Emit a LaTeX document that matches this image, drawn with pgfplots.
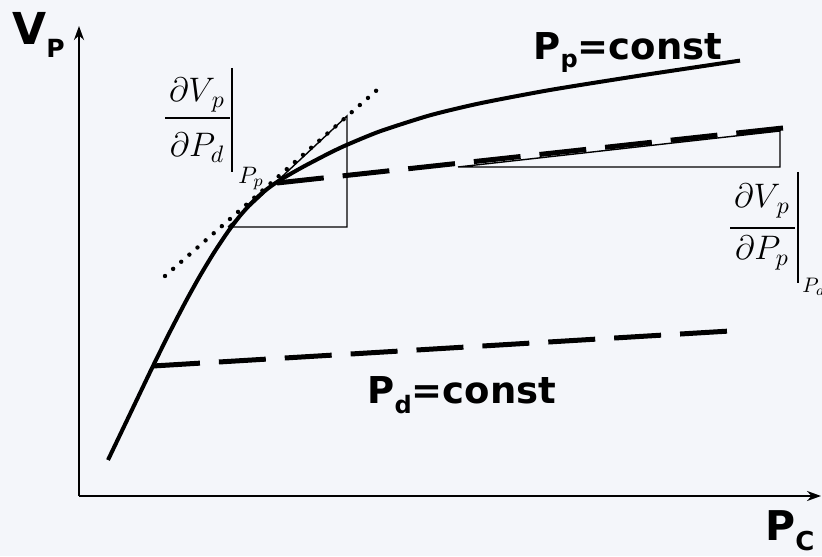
\RequirePackage{fix-cm}
\documentclass[border=0pt]{standalone}
\usepackage{pgfplots}
\pgfplotsset{compat=1.18}
\usepackage{fontspec}
\setmainfont{DejaVu Sans}
\usetikzlibrary{arrows.meta}
\definecolor{paper}{RGB}{244,246,250}

\begin{document}
\begin{tikzpicture}
\begin{axis}[
  width=411pt, height=278pt, scale only axis,
  xmin=0, xmax=822, ymin=0, ymax=556,
  hide axis, clip=false,
]
% paper
\fill[paper] (axis cs:0,0) rectangle (axis cs:822,556);

% coordinate axes
\draw[line width=1.2pt, -{Stealth[length=7pt,width=5pt]}] (axis cs:79,60) -- (axis cs:79,530);
\draw[line width=1.2pt, -{Stealth[length=7pt,width=5pt]}] (axis cs:79,60) -- (axis cs:821,60);

% slope triangles
\addplot[black, line width=0.7pt] coordinates {(228,329) (347,329) (347,440) (228,329)};
\addplot[black, line width=0.7pt] coordinates {(458,389) (780,389) (780,425) (458,389)};

% tangent at the intersection point
\addplot[black, line width=2.2pt, line cap=round, dash pattern=on 0pt off 5.4pt]
  coordinates {(165,280) (377,466)};

% P_p = const curve
\addplot[black, line width=2pt, smooth, tension=0.4] coordinates {
  (108,96) (130,142) (153,190) (170,224.3) (186,255) (200,280.2) (214,303.4)
  (228,324.4) (240,340.2) (252,353.6) (264,364.6) (277,374) (290,381.8) (305,390.2)
  (330,403.2) (347,411.2) (380,424.7) (430,440.7) (480,452.7) (550,466)
  (640,480.4) (740,495.4)
};

% P_d = const lines
\addplot[black, line width=2.5pt, dash pattern=on 23.5pt off 9.5pt]
  coordinates {(277,373) (783,428)};
\addplot[black, line width=2.5pt, dash pattern=on 23.5pt off 9.5pt]
  coordinates {(153,190) (730,225)};

% axis titles
\node[anchor=base west, inner sep=0] at (axis cs:12,511)
  {\fontsize{22}{26}\selectfont\bfseries V\raisebox{-6.5pt}{\fontsize{12.5}{15}\selectfont P}};
\node[anchor=base west, inner sep=0] at (axis cs:765,16)
  {\fontsize{20.5}{24}\selectfont\bfseries P\raisebox{-5pt}{\fontsize{13}{16}\selectfont C}};

% curve labels
\node[anchor=base west, inner sep=0] at (axis cs:533,496)
  {\fontsize{18.5}{22}\selectfont\bfseries P\raisebox{-4pt}{\fontsize{12}{14}\selectfont p}=const};
\node[anchor=base west, inner sep=0] at (axis cs:367,153)
  {\fontsize{18.5}{22}\selectfont\bfseries P\raisebox{-5pt}{\fontsize{12}{14}\selectfont d}=const};

% derivative along P_p = const
\node[anchor=base, inner sep=0] at (axis cs:197,454) {\fontsize{17}{20}\selectfont$\partial V_{\,p}$};
\draw[line width=0.6pt] (axis cs:165,438) -- (axis cs:230,438);
\node[anchor=base, inner sep=0] at (axis cs:197,399) {\fontsize{17}{20}\selectfont$\partial P_{d}$};
\draw[line width=0.7pt] (axis cs:232,488) -- (axis cs:232,384);
\node[anchor=base west, inner sep=0] at (axis cs:238,378) {\fontsize{17}{20}\selectfont$_{P_p}$};

% derivative along P_d = const
\node[anchor=base, inner sep=0] at (axis cs:762,348) {\fontsize{17}{20}\selectfont$\partial V_{\,p}$};
\draw[line width=0.6pt] (axis cs:730,328) -- (axis cs:795,328);
\node[anchor=base, inner sep=0] at (axis cs:762,296) {\fontsize{17}{20}\selectfont$\partial P_{p}$};
\draw[line width=0.7pt] (axis cs:798,384) -- (axis cs:798,273);
\node[anchor=base west, inner sep=0] at (axis cs:802,268) {\fontsize{15}{18}\selectfont$_{P_d}$};
\end{axis}
\pgfresetboundingbox
\path (current axis.south west) rectangle (current axis.north east);
\end{tikzpicture}
\end{document}
